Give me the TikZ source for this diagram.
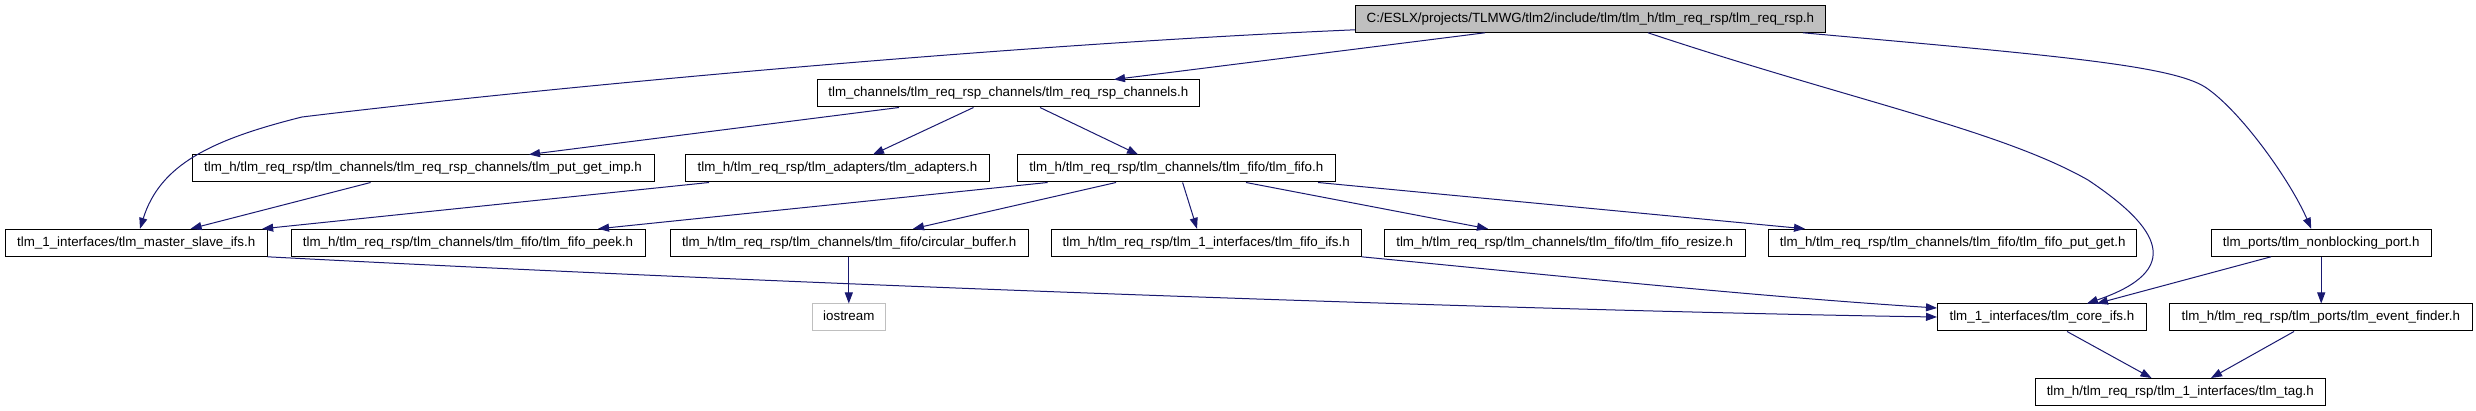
\documentclass[tikz,border=0pt]{standalone}
\usepackage{fontspec}
\setmainfont{Liberation Sans}
\usetikzlibrary{arrows.meta,calc}
\definecolor{edgeblue}{HTML}{191970}
\definecolor{topgrey}{HTML}{BFBFBF}
\tikzset{
  filebox/.style={draw=black, line width=1pt, fill=white, inner sep=0pt,
    minimum height=27pt, text height=9.6pt, text depth=2.8pt,
    font=\fontsize{13.35}{16}\selectfont},
  rootbox/.style={filebox, fill=topgrey},
  extbox/.style={filebox, draw=topgrey},
  dep/.style={draw=edgeblue, line width=1pt, -{Triangle[length=11pt,width=8pt]}},
}
\begin{document}
\begin{tikzpicture}[x=1pt,y=-1pt]
\useasboundingbox (0,0) rectangle (2476,411);
% nodes
\node[rootbox, minimum width=470pt] (top) at (1590.4,18.8) {C:/ESLX/projects/TLMWG/tlm2/include/tlm/tlm\_h/tlm\_req\_rsp/tlm\_req\_rsp.h};
\node[filebox, minimum width=382.6pt] (rrc) at (1008.3,93.5) {tlm\_channels/tlm\_req\_rsp\_channels/tlm\_req\_rsp\_channels.h};
\node[filebox, minimum width=462pt] (pgi) at (423,168.5) {tlm\_h/tlm\_req\_rsp/tlm\_channels/tlm\_req\_rsp\_channels/tlm\_put\_get\_imp.h};
\node[filebox, minimum width=304pt] (adp) at (837.5,168.5) {tlm\_h/tlm\_req\_rsp/tlm\_adapters/tlm\_adapters.h};
\node[filebox, minimum width=317.6pt] (fifo) at (1176.3,168.5) {tlm\_h/tlm\_req\_rsp/tlm\_channels/tlm\_fifo/tlm\_fifo.h};
\node[filebox, minimum width=261.7pt] (ms) at (136.2,242.8) {tlm\_1\_interfaces/tlm\_master\_slave\_ifs.h};
\node[filebox, minimum width=354pt] (peek) at (468,242.8) {tlm\_h/tlm\_req\_rsp/tlm\_channels/tlm\_fifo/tlm\_fifo\_peek.h};
\node[filebox, minimum width=358.3pt] (cb) at (849.2,242.8) {tlm\_h/tlm\_req\_rsp/tlm\_channels/tlm\_fifo/circular\_buffer.h};
\node[filebox, minimum width=309.7pt] (fifs) at (1206.2,242.8) {tlm\_h/tlm\_req\_rsp/tlm\_1\_interfaces/tlm\_fifo\_ifs.h};
\node[filebox, minimum width=360.7pt] (resize) at (1564.7,242.8) {tlm\_h/tlm\_req\_rsp/tlm\_channels/tlm\_fifo/tlm\_fifo\_resize.h};
\node[filebox, minimum width=368.3pt] (fpg) at (1952.7,242.8) {tlm\_h/tlm\_req\_rsp/tlm\_channels/tlm\_fifo/tlm\_fifo\_put\_get.h};
\node[filebox, minimum width=219.6pt] (nb) at (2321.2,242.8) {tlm\_ports/tlm\_nonblocking\_port.h};
\node[extbox, minimum width=73pt] (ios) at (848.8,317.5) {iostream};
\node[filebox, minimum width=208.8pt] (core) at (2041.9,317.5) {tlm\_1\_interfaces/tlm\_core\_ifs.h};
\node[filebox, minimum width=302.5pt] (ef) at (2320.8,317.5) {tlm\_h/tlm\_req\_rsp/tlm\_ports/tlm\_event\_finder.h};
\node[filebox, minimum width=290.2pt] (tag) at (2180.3,392) {tlm\_h/tlm\_req\_rsp/tlm\_1\_interfaces/tlm\_tag.h};
% connectors
\draw[dep] ([xshift=-105.4pt]top.south) -- ([xshift=105.7pt]rrc.north);
\draw[dep] ($(top.south west)+(0,-3)$) .. controls (1000,45) and (540,88) .. (302,117)
  .. controls (210,140) and (160,165) .. ([xshift=3.8pt]ms.north);
\draw[dep] ([xshift=57.6pt]top.south) .. controls (1850,100) and (2000,130) .. (2088,180)
  .. controls (2160,228) and (2185,270) .. ([xshift=45pt]core.north);
\draw[dep] ([xshift=212.6pt]top.south) .. controls (2050,55) and (2170,65) .. (2205,87)
  .. controls (2240,110) and (2290,180) .. ([xshift=-10pt]nb.north);
\draw[dep] ([xshift=-109.3pt]rrc.south) -- ([xshift=106pt]pgi.north);
\draw[dep] ([xshift=-34.8pt]rrc.south) -- ([xshift=35.5pt]adp.north);
\draw[dep] ([xshift=31.7pt]rrc.south) -- ([xshift=-38.3pt]fifo.north);
\draw[dep] ([xshift=-52.4pt]pgi.south) -- ([xshift=54.4pt]ms.north);
\draw[dep] ([xshift=-128.5pt]adp.south) -- ([xshift=126pt]ms.north);
\draw[dep] ([xshift=-128.7pt]fifo.south) -- ([xshift=130pt]peek.north);
\draw[dep] ([xshift=-60.3pt]fifo.south) -- ([xshift=63.8pt]cb.north);
\draw[dep] ([xshift=6.3pt]fifo.south) -- ([xshift=-9.2pt]fifs.north);
\draw[dep] ([xshift=69.7pt]fifo.south) -- ([xshift=-76.7pt]resize.north);
\draw[dep] ([xshift=141.7pt]fifo.south) -- ([xshift=-147.7pt]fpg.north);
\draw[dep] (ios.north |- cb.south) -- (ios.north);
\draw[dep] (ms.south east) .. controls (900,290) and (1600,312) .. ([yshift=0.5pt]core.west);
\draw[dep] (fifs.south east) .. controls (1550,275) and (1750,296) .. ([yshift=9.5pt]core.west);
\draw[dep] ([xshift=-50.2pt]nb.south) -- ([xshift=55pt]core.north);
\draw[dep] (nb.south) -- (nb.south |- ef.north);
\draw[dep] ([xshift=25.1pt]core.south) -- ([xshift=-28.8pt]tag.north);
\draw[dep] ([xshift=-26.8pt]ef.south) -- ([xshift=30.7pt]tag.north);
\end{tikzpicture}
\end{document}
